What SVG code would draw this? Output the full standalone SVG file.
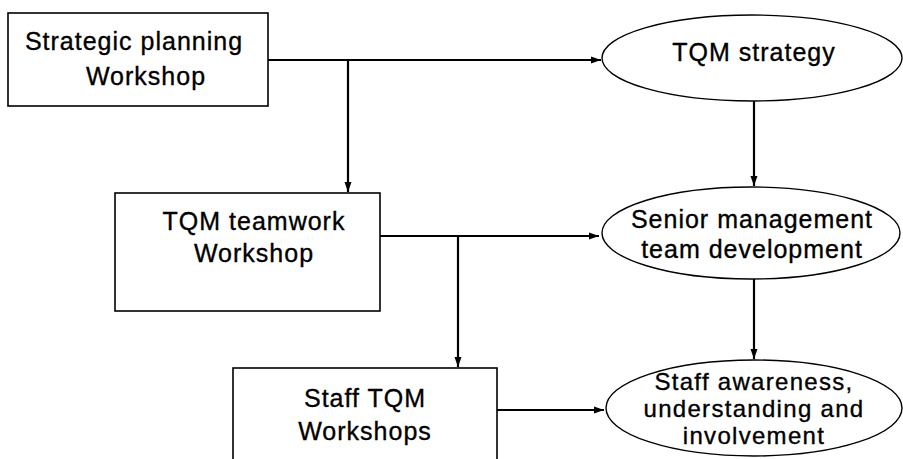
<svg xmlns="http://www.w3.org/2000/svg" width="903" height="459" viewBox="0 0 903 459">
<style>
.box{fill:#fff;stroke:#000;stroke-width:1.6}
.ell{fill:#fff;stroke:#000;stroke-width:1.4}
.t{font-family:"Liberation Sans",Arial,sans-serif;font-size:25px;letter-spacing:1px;fill:#000;text-anchor:middle;stroke:#000;stroke-width:0.35}
.s{font-size:24px;letter-spacing:1.3px}
.c{fill:none;stroke:#000;stroke-width:2.2}
</style>
<defs>
<marker id="ah" viewBox="0 0 10 10" refX="10" refY="5" markerWidth="10" markerHeight="10" markerUnits="userSpaceOnUse" orient="auto">
<path d="M0,1.5 L10,5 L0,8.5 Z" fill="#000"/>
</marker>
</defs>
<rect width="903" height="459" fill="#fff"/>
<g id="connectors">
<path class="c" d="M268,60 H601" marker-end="url(#ah)"/>
<path class="c" d="M348,60 V192" marker-end="url(#ah)"/>
<path class="c" d="M754,100 V186" marker-end="url(#ah)"/>
<path class="c" d="M380,236 H599" marker-end="url(#ah)"/>
<path class="c" d="M458,236 V367" marker-end="url(#ah)"/>
<path class="c" d="M754,279 V359" marker-end="url(#ah)"/>
<path class="c" d="M497,410 H604" marker-end="url(#ah)"/>
</g>
<g id="strategic-planning">
<rect class="box" x="8" y="13" width="260" height="93"/>
<text class="t" x="134" y="50">Strategic planning</text>
<text class="t" x="146" y="85">Workshop</text>
</g>
<g id="tqm-strategy">
<ellipse class="ell" cx="752" cy="58" rx="150" ry="43"/>
<text class="t" x="754" y="61">TQM strategy</text>
</g>
<g id="tqm-teamwork">
<rect class="box" x="115" y="193" width="265" height="118"/>
<text class="t" x="254" y="230">TQM teamwork</text>
<text class="t" x="254" y="262">Workshop</text>
</g>
<g id="senior-management">
<ellipse class="ell" cx="751" cy="233" rx="149" ry="46"/>
<text class="t" x="752" y="228">Senior management</text>
<text class="t" x="752" y="258">team development</text>
</g>
<g id="staff-workshops">
<rect class="box" x="233" y="368" width="264" height="110"/>
<text class="t" x="365" y="407">Staff TQM</text>
<text class="t" x="365" y="440">Workshops</text>
</g>
<g id="staff-awareness">
<ellipse class="ell" cx="754" cy="408" rx="148" ry="48"/>
<text class="t s" x="754" y="390">Staff awareness,</text>
<text class="t s" x="754" y="417">understanding and</text>
<text class="t s" x="754" y="444">involvement</text>
</g>
</svg>
